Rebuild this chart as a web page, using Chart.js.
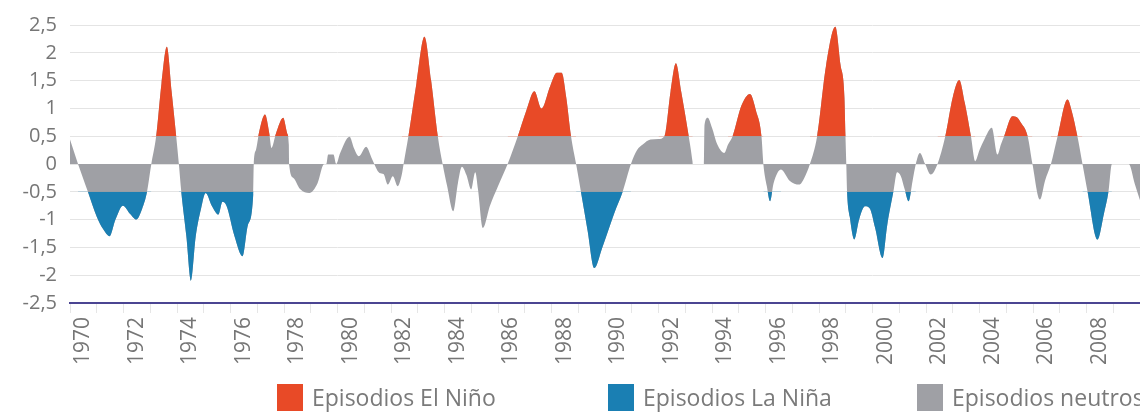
<!DOCTYPE html>
<html>
<head>
<meta charset="utf-8">
<script src="https://cdn.jsdelivr.net/npm/chart.js@4.4.1/dist/chart.umd.min.js"></script>
<style>
  body { margin: 0; background: #fff; }
  #wrap { position: relative; width: 1140px; height: 413px; overflow: hidden; }
  .leg { position: absolute; top: 382px; height: 30px; display: flex; align-items: center;
         font-family: 'Open Sans', sans-serif; font-size: 23px; color: #7a7a7a; white-space: nowrap; }
  .leg i { display: inline-block; width: 26px; height: 27px; margin-right: 9px; }
</style>
</head>
<body>
<div id="wrap">
  <canvas id="oni-chart" width="1140" height="413"></canvas>
  <div class="leg" style="left:277px"><i style="background:#e84a27"></i>Episodios El Niño</div>
  <div class="leg" style="left:608px"><i style="background:#1a7fb3"></i>Episodios La Niña</div>
  <div class="leg" style="left:917px"><i style="background:#9fa0a5"></i>Episodios neutros</div>
</div>
<script>
// ONI values (decimal year, value)
const oniYear = [
  1970.00, 1970.30, 1970.67, 1971.00, 1971.25, 1971.48, 1971.70, 1971.98, 1972.25, 1972.48,
  1972.70, 1972.88, 1973.04, 1973.22, 1973.42, 1973.62, 1973.80, 1973.97, 1974.07, 1974.16,
  1974.35, 1974.52, 1974.70, 1974.90, 1975.07, 1975.30, 1975.55, 1975.70, 1975.85, 1976.15,
  1976.45, 1976.65, 1976.85, 1976.87, 1976.95, 1977.08, 1977.29, 1977.45, 1977.53, 1977.70,
  1977.97, 1978.12, 1978.18, 1978.19, 1978.35, 1978.60, 1978.95, 1979.25, 1979.50, 1979.58,
  1979.65, 1979.85, 1979.95, 1980.10, 1980.45, 1980.62, 1980.80, 1981.07, 1981.30, 1981.57,
  1981.72, 1981.88, 1982.07, 1982.25, 1982.40, 1982.47, 1982.65, 1982.95, 1983.25, 1983.50,
  1983.75, 1983.93, 1984.10, 1984.33, 1984.50, 1984.65, 1984.82, 1985.00, 1985.15, 1985.25,
  1985.43, 1985.70, 1986.00, 1986.36, 1986.74, 1987.05, 1987.36, 1987.63, 1987.95, 1988.20,
  1988.38, 1988.55, 1988.73, 1988.92, 1989.10, 1989.35, 1989.60, 1989.90, 1990.35, 1990.66,
  1990.97, 1991.20, 1991.41, 1991.70, 1992.00, 1992.22, 1992.45, 1992.65, 1992.85, 1993.13,
  1993.27, 1993.28, 1993.70, 1993.72, 1993.84, 1994.00, 1994.20, 1994.46, 1994.60, 1994.77,
  1995.10, 1995.42, 1995.65, 1995.85, 1995.92, 1996.05, 1996.17, 1996.30, 1996.58, 1996.90,
  1997.26, 1997.45, 1997.66, 1997.93, 1998.26, 1998.61, 1998.80, 1998.95, 1998.99, 1999.02,
  1999.05, 1999.15, 1999.32, 1999.50, 1999.72, 1999.90, 2000.10, 2000.38, 2000.55, 2000.78,
  2000.92, 2001.06, 2001.20, 2001.35, 2001.50, 2001.62, 2001.77, 2001.97, 2002.18, 2002.43,
  2002.72, 2003.00, 2003.24, 2003.45, 2003.68, 2003.84, 2004.00, 2004.18, 2004.46, 2004.67,
  2004.80, 2004.92, 2005.23, 2005.40, 2005.55, 2005.80, 2005.98, 2006.26, 2006.45, 2006.67,
  2006.92, 2007.29, 2007.45, 2007.66, 2007.85, 2008.04, 2008.41, 2008.65, 2008.82, 2008.95,
  2009.58, 2009.80, 2010.00
];
const oniValue = [
  0.44, 0.00, -0.50, -0.95, -1.18, -1.30, -1.00, -0.75, -0.90, -1.00,
  -0.80, -0.50, 0.00, 0.50, 1.45, 2.11, 1.30, 0.50, 0.00, -0.50,
  -1.30, -2.10, -1.30, -0.80, -0.52, -0.75, -0.91, -0.68, -0.75, -1.30,
  -1.66, -1.10, -0.55, 0.00, 0.25, 0.60, 0.89, 0.55, 0.29, 0.55,
  0.83, 0.55, 0.35, 0.00, -0.25, -0.45, -0.52, -0.35, 0.00, 0.00,
  0.17, 0.17, 0.00, 0.20, 0.49, 0.28, 0.14, 0.31, 0.08, -0.16,
  -0.18, -0.37, -0.22, -0.40, -0.20, 0.00, 0.50, 1.45, 2.29, 1.50,
  0.50, 0.00, -0.40, -0.85, -0.35, -0.05, -0.20, -0.46, -0.15, -0.45,
  -1.15, -0.75, -0.40, 0.00, 0.50, 0.95, 1.31, 1.00, 1.40, 1.64,
  1.64, 1.20, 0.50, 0.00, -0.50, -1.20, -1.87, -1.50, -0.88, -0.50,
  0.00, 0.25, 0.35, 0.44, 0.45, 0.50, 1.30, 1.81, 1.30, 0.50,
  0.05, 0.00, 0.00, 0.70, 0.83, 0.65, 0.35, 0.20, 0.35, 0.50,
  1.05, 1.26, 0.95, 0.50, 0.00, -0.40, -0.67, -0.35, -0.10, -0.30,
  -0.37, -0.25, 0.00, 0.50, 1.76, 2.47, 1.80, 1.20, 0.50, 0.00,
  -0.50, -0.95, -1.36, -1.00, -0.76, -0.80, -1.15, -1.69, -1.10, -0.50,
  -0.15, -0.22, -0.45, -0.67, -0.30, 0.00, 0.20, 0.00, -0.19, 0.00,
  0.50, 1.20, 1.51, 1.10, 0.50, 0.05, 0.25, 0.44, 0.65, 0.17,
  0.35, 0.50, 0.86, 0.84, 0.74, 0.50, 0.00, -0.64, -0.30, 0.00,
  0.50, 1.16, 0.95, 0.50, 0.00, -0.50, -1.36, -0.90, -0.50, 0.00,
  0.00, -0.35, -0.65
];
// episode periods [start, end]
const ninoEpisodes = [
  [1973.00, 1974.07], [1976.87, 1978.19], [1982.40, 1983.93], [1986.36, 1988.92],
  [1992.00, 1993.28], [1994.60, 1995.92], [1997.66, 1999.02], [2002.43, 2003.84],
  [2004.67, 2005.98], [2006.67, 2007.85]
];
const ninaEpisodes = [
  [1970.30, 1973.04], [1974.07, 1976.87], [1988.92, 1990.97], [1995.92, 1996.58],
  [1999.02, 2001.62], [2007.85, 2008.95]
];
const tickYears = [1970, 1972, 1974, 1976, 1978, 1980, 1982, 1984, 1986, 1988,
  1990, 1992, 1994, 1996, 1998, 2000, 2002, 2004, 2006, 2008];
const yTicks = [-2.5, -2, -1.5, -1, -0.5, 0, 0.5, 1, 1.5, 2, 2.5];

const RED = '#e84a27';
const BLUE = '#1a7fb3';
const GREY = '#9fa0a5';
const NONE = 'rgba(0,0,0,0)';

const inEpisode = (x, episodes) => episodes.some(([a, b]) => x >= a && x <= b);
const points = oniYear.map((x, i) => ({x, y: oniValue[i]}));
const ninoPoints = points.map(p => ({x: p.x, y: inEpisode(p.x, ninoEpisodes) ? p.y : null}));
const ninaPoints = points.map(p => ({x: p.x, y: inEpisode(p.x, ninaEpisodes) ? p.y : null}));

const lineBase = {
  borderColor: NONE,
  borderWidth: 0,
  pointRadius: 0,
  pointHitRadius: 0,
  cubicInterpolationMode: 'monotone'
};

Chart.defaults.font.family = "'Open Sans', sans-serif";

new Chart(document.getElementById('oni-chart').getContext('2d'), {
  type: 'line',
  data: {
    datasets: [
      Object.assign({}, lineBase, {
        label: 'Episodios El Niño',
        data: ninoPoints,
        backgroundColor: RED,
        fill: {target: {value: 0.5}, above: RED, below: NONE},
        order: 1
      }),
      Object.assign({}, lineBase, {
        label: 'Episodios La Niña',
        data: ninaPoints,
        backgroundColor: BLUE,
        fill: {target: {value: -0.5}, above: NONE, below: BLUE},
        order: 2
      }),
      Object.assign({}, lineBase, {
        label: 'Episodios neutros',
        data: points,
        backgroundColor: GREY,
        fill: 'origin',
        order: 3
      })
    ]
  },
  options: {
    responsive: false,
    animation: false,
    devicePixelRatio: 1,
    layout: {padding: {top: 25, right: 0, bottom: 0, left: 0}},
    plugins: {
      legend: {display: false},
      tooltip: {enabled: false}
    },
    scales: {
      x: {
        type: 'linear',
        min: 1970,
        max: 2010,
        afterBuildTicks: (scale) => {
          const marks = [];
          for (let y = 1970; y <= 2010; y++) marks.push({value: y});
          scale.ticks = marks;
        },
        afterFit: (scale) => {
          scale.height = 110;
          scale.paddingLeft = 0;
          scale.paddingRight = 0;
        },
        ticks: {
          autoSkip: false,
          minRotation: 90,
          maxRotation: 90,
          labelOffset: 13.4,
          padding: 4,
          color: '#767676',
          font: {size: 21},
          callback: (v) => tickYears.includes(v) ? String(v) : ''
        },
        grid: {
          drawOnChartArea: false,
          drawTicks: true,
          tickLength: 10,
          color: '#e6e6e6'
        },
        border: {display: true, color: '#4b4592', width: 2}
      },
      y: {
        min: -2.5,
        max: 2.5,
        afterBuildTicks: (scale) => {
          scale.ticks = yTicks.map(v => ({value: v}));
        },
        afterFit: (scale) => {
          scale.width = 70;
          scale.paddingTop = 0;
          scale.paddingBottom = 0;
        },
        ticks: {
          padding: 13,
          color: '#767676',
          font: {size: 20},
          callback: (v) => String(v).replace('.', ',')
        },
        grid: {
          color: '#e4e4e4',
          drawTicks: false
        },
        border: {display: false}
      }
    }
  }
});
</script>
</body>
</html>
